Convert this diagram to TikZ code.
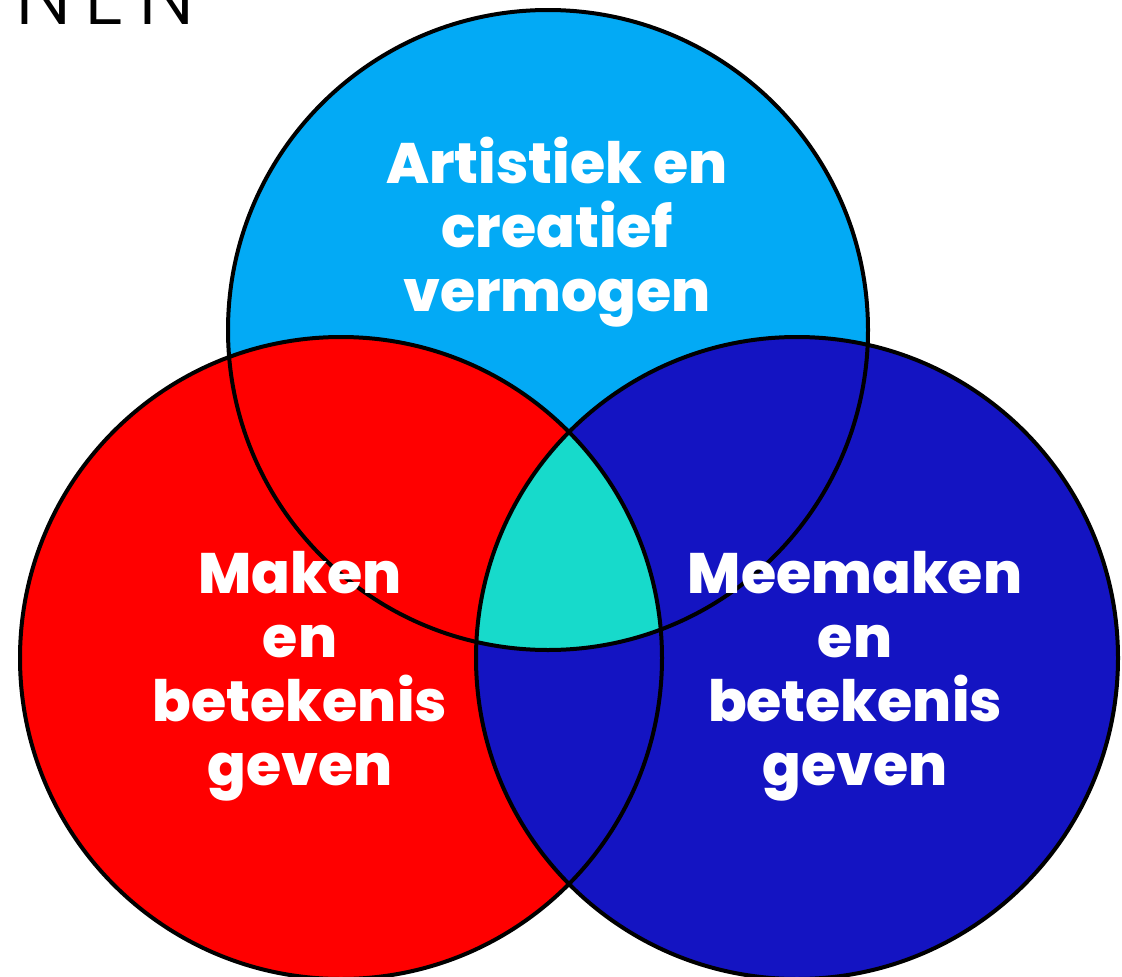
\documentclass[tikz,border=0pt]{standalone}
\usepackage{fontspec}
\setmainfont{Poppins}[BoldFont={Poppins ExtraBold}]
\newfontfamily\thinfont{Poppins Light}[LetterSpace=16]
\usepackage{tikz}
\usetikzlibrary{positioning}
\definecolor{creatief}{HTML}{03AAF5}
\definecolor{maken}{HTML}{FF0000}
\definecolor{meemaken}{HTML}{1414C2}
\definecolor{kern}{HTML}{17DACB}
\tikzset{
  circle label/.style={
    text=white, align=center,
    font=\fontsize{57}{64}\selectfont\bfseries
  },
  rim/.style={draw=black, line width=4pt},
  edge word/.style={
    anchor=base west, inner sep=0pt,
    font=\fontsize{82}{82}\selectfont\thinfont
  }
}

\begin{document}
\begin{tikzpicture}[x=1pt, y=-1pt]
  \useasboundingbox (0,0) rectangle (1122,977);
  \begin{scope}
  \clip (0,0) rectangle (1122,977);

  % Centres
  \coordinate (top) at (548,330);
  \coordinate (left) at (341,658);
  \coordinate (right) at (797,658);

  % Fills
  \fill[creatief] (top) circle [radius=320pt];
  \fill[maken] (left) circle [radius=321pt];
  \fill[meemaken] (right) circle [radius=321pt];
  \begin{scope}
    \clip (top) circle [radius=320pt];
    \clip (left) circle [radius=321pt];
    \fill[kern] (right) circle [radius=321pt];
  \end{scope}

  % Outlines
  \draw[rim] (top) circle [radius=320pt];
  \draw[rim] (left) circle [radius=321pt];
  \draw[rim] (right) circle [radius=321pt];

  % Labels
  \node[circle label] (artistiek) at (557,232) {Artistiek en\\creatief\\vermogen};
  \node[circle label] (maakt) at (300,676) {Maken\\en\\betekenis\\geven};
  \node[circle label] (meemaakt) at (855,676) {Meemaken\\en\\betekenis\\geven};

  % Cut-off words at the edges
  \node[edge word] (nen) at (15,24) {NEN};
  \node[edge word] (bl) at (1021,1036) {BL};
  \end{scope}
\end{tikzpicture}
\end{document}
